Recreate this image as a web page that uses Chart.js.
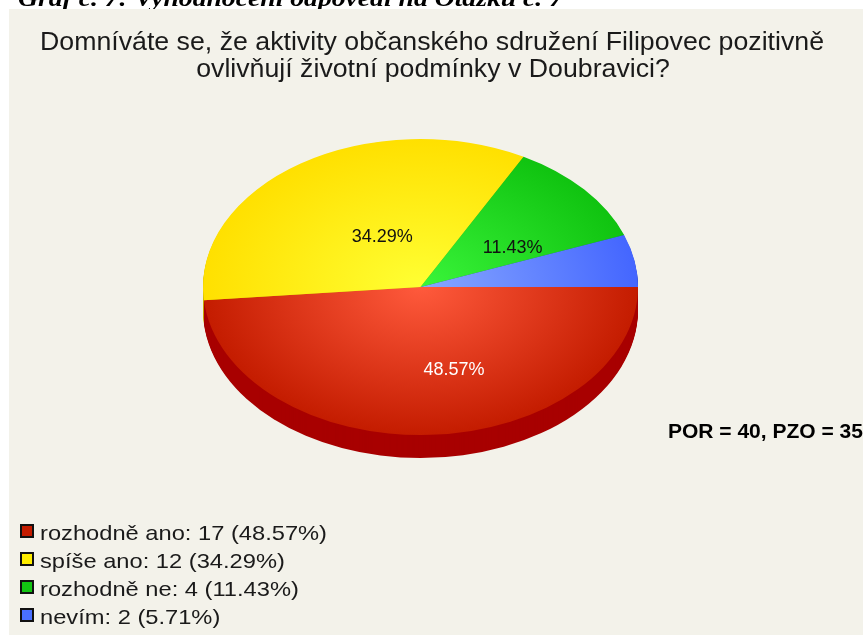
<!DOCTYPE html>
<html>
<head>
<meta charset="utf-8">
<script src="https://cdn.jsdelivr.net/npm/chart.js@4.4.1/dist/chart.umd.min.js"></script>
<style>
  html, body { margin: 0; padding: 0; background: #ffffff; }
  #c { display: block; }
</style>
</head>
<body>
<canvas id="c" width="863" height="637" style="width:863px;height:637px"></canvas>
<script>
// ---- data ----
const categories = ['rozhodně ano', 'spíše ano', 'rozhodně ne', 'nevím'];
const counts = [17, 12, 4, 2];
const respondentsPOR = 40;
const titleLines = [
  'Domníváte se, že aktivity občanského sdružení Filipovec pozitivně',
  'ovlivňují životní podmínky v Doubravici?'
];
const captionText = 'Graf č. 7: Vyhodnocení odpovědí na Otázku č. 7';

// ---- derived ----
const total = counts.reduce((a, b) => a + b, 0);
const percents = counts.map(v => (v / total * 100).toFixed(2));
const legendLabels = categories.map((c, i) => c + ': ' + counts[i] + ' (' + percents[i] + '%)');
const summaryText = 'POR = ' + respondentsPOR + ', PZO = ' + total;

// ---- styles ----
const edgeColors  = ['#c41c00', '#ffe000', '#10c310', '#4466ff'];
const lightColors = ['#ff5a3c', '#ffff33', '#3af53a', '#88a8ff'];
const sideColors  = ['#a80000', '#c8b000', '#0a8a0a', '#2a40c0'];
const legendBoxColors = ['#c41c00', '#ffee00', '#12c412', '#4a70ff'];
const labelColors = ['#ffffff', '#111111', '#111111', '#111111'];
const labelTweak = [{da: -12.8, f: 0.58}, {da: 5.8, f: 0.38}, {da: 9, f: 0.5}, null];
const BEIGE = '#f3f2ea';
const TILT_RY = 148;   // vertical radius of the top ellipse
const TARGET_CY = 287; // vertical centre of the top ellipse
const DEPTH = 23;

function pieGeom(chart) {
  const a = chart.chartArea;
  return { cx: (a.left + a.right) / 2, cy: (a.top + a.bottom) / 2, R: Math.min(a.right - a.left, a.bottom - a.top) / 2 };
}
function applyEllipse(ctx, g, dy) {
  const k = TILT_RY / g.R;
  ctx.translate(g.cx, TARGET_CY + dy);
  ctx.scale(1, k);
  ctx.translate(-g.cx, -g.cy);
}
function fitText(ctx, text, x, y, targetW, align) {
  const w = ctx.measureText(text).width;
  const s = targetW / w;
  scaledText(ctx, text, x, y, s, align);
  return s;
}
function scaledText(ctx, text, x, y, s, align) {
  ctx.save();
  ctx.translate(x, y);
  ctx.scale(s, 1);
  ctx.textAlign = align || 'left';
  ctx.fillText(text, 0, 0);
  ctx.restore();
}

const pie3d = {
  id: 'pie3d',
  beforeDraw(chart) {
    const ctx = chart.ctx;
    ctx.save();
    ctx.fillStyle = '#000';
    ctx.textBaseline = 'alphabetic';
    ctx.font = 'bold italic 23px "Liberation Serif"';
    fitText(ctx, captionText, 18, 6, 545, 'left');
    ctx.fillStyle = BEIGE;
    ctx.fillRect(9, 9, 854, 626);
    ctx.restore();
  },
  beforeDatasetsDraw(chart) {
    const ctx = chart.ctx;
    const meta = chart.getDatasetMeta(0);
    const g = pieGeom(chart);
    for (let d = DEPTH; d >= 1; d--) {
      meta.data.forEach((arc, i) => {
        ctx.save();
        applyEllipse(ctx, g, d);
        ctx.beginPath();
        ctx.moveTo(arc.x, arc.y);
        ctx.arc(arc.x, arc.y, arc.outerRadius, arc.startAngle, arc.endAngle);
        ctx.closePath();
        ctx.fillStyle = sideColors[i];
        ctx.fill();
        ctx.restore();
      });
    }
    ctx.save();
    applyEllipse(ctx, g, 0);
  },
  afterDatasetsDraw(chart) {
    const ctx = chart.ctx;
    ctx.restore();
    const meta = chart.getDatasetMeta(0);
    const g = pieGeom(chart);
    const k = TILT_RY / g.R;
    ctx.save();
    // slice labels
    ctx.font = '18px "Liberation Sans"';
    ctx.textAlign = 'center';
    ctx.textBaseline = 'middle';
    meta.data.forEach((arc, i) => {
      const t = labelTweak[i];
      if (!t) return;
      const mid = (arc.startAngle + arc.endAngle) / 2 + t.da * Math.PI / 180;
      const r = arc.outerRadius * t.f;
      const x = g.cx + Math.cos(mid) * r;
      const y = TARGET_CY + Math.sin(mid) * r * k;
      ctx.fillStyle = labelColors[i];
      ctx.fillText(percents[i] + '%', x, y);
    });
    // title
    ctx.textBaseline = 'alphabetic';
    ctx.fillStyle = '#1a1a1a';
    ctx.font = '25px "Liberation Sans"';
    const ts = fitText(ctx, titleLines[0], 432, 50, 784, 'center');
    scaledText(ctx, titleLines[1], 433, 77, ts, 'center');
    // legend
    ctx.font = '21px "Liberation Sans"';
    const lsc = 287 / ctx.measureText(legendLabels[0]).width;
    legendLabels.forEach((txt, i) => {
      const base = 540 + i * 28;
      ctx.fillStyle = '#111';
      ctx.fillRect(20, base - 16, 14, 14);
      ctx.fillStyle = legendBoxColors[i];
      ctx.fillRect(22, base - 14, 10, 10);
      ctx.fillStyle = '#1a1a1a';
      scaledText(ctx, txt, 40, base, lsc, 'left');
    });
    // summary
    ctx.fillStyle = '#000';
    ctx.font = 'bold 21px "Liberation Sans"';
    ctx.textAlign = 'left';
    ctx.fillText(summaryText, 668, 438);
    ctx.restore();
  }
};

function sliceFill(i) {
  return function (c) {
    const chart = c.chart;
    if (!chart.chartArea) return edgeColors[i];
    const g = pieGeom(chart);
    const grad = chart.ctx.createRadialGradient(g.cx, g.cy, 0, g.cx, g.cy, g.R);
    grad.addColorStop(0, lightColors[i]);
    grad.addColorStop(1, edgeColors[i]);
    return grad;
  };
}

new Chart(document.getElementById('c'), {
  type: 'pie',
  data: {
    labels: categories,
    datasets: [{
      data: counts,
      backgroundColor: (c) => sliceFill(c.dataIndex)(c),
      borderWidth: 0,
      clip: false
    }]
  },
  options: {
    responsive: false,
    devicePixelRatio: 1,
    animation: false,
    rotation: 90,
    events: [],
    layout: { padding: { left: 203, right: 225, top: 90, bottom: 112 } },
    plugins: {
      legend: { display: false },
      title: { display: false },
      tooltip: { enabled: false }
    }
  },
  plugins: [pie3d]
});
</script>
</body>
</html>
